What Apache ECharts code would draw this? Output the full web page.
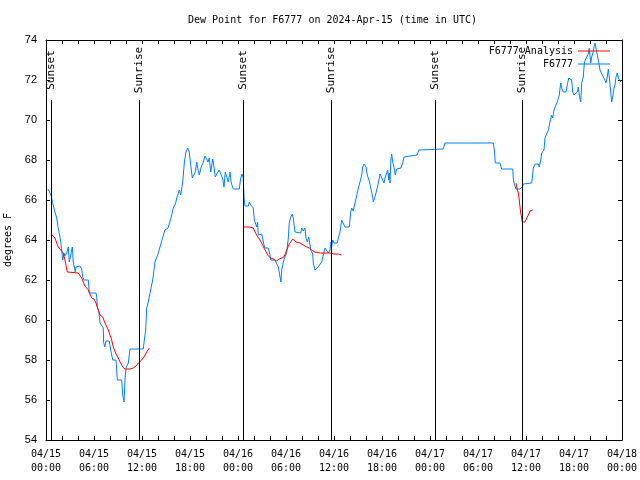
<!DOCTYPE html>
<html><head><meta charset="utf-8">
<script src="https://cdn.jsdelivr.net/npm/echarts@6/dist/echarts.min.js"></script>
<style>html,body{margin:0;padding:0;background:#fff}#c{width:640px;height:480px}</style>
</head><body><div id="c"></div>
<script>
// hours since 2024-04-15 00:00 UTC
const obsHours = [0.25,0.5,0.62,0.75,0.91,1.12,1.34,1.46,1.62,1.75,1.84,1.96,2.09,2.25,2.37,2.59,2.79,2.91,3.09,3.29,3.41,3.54,3.66,3.75,3.91,4.25,4.46,4.59,4.75,5.29,5.41,6.25,6.34,6.41,6.62,6.75,7.16,7.2,7.34,7.5,7.91,8.09,8.34,8.75,8.84,8.91,9.46,9.59,9.75,9.87,10.0,10.29,10.5,12.16,12.29,12.46,12.59,12.79,13.0,13.21,13.34,13.62,14.0,14.5,14.87,15.25,15.62,15.91,16.21,16.34,16.66,16.84,17.09,17.29,17.46,17.71,17.91,18.09,18.29,18.5,18.66,18.84,19.0,19.16,19.37,19.66,19.87,20.09,20.25,20.41,20.59,20.84,21.0,21.16,21.41,21.66,21.91,22.09,22.25,22.41,22.66,22.79,23.0,23.16,23.41,24.16,24.34,24.5,24.66,24.75,24.87,25.29,25.41,25.59,25.91,26.04,26.25,26.34,26.44,26.54,26.75,26.96,27.16,27.25,27.37,27.59,27.79,28.0,28.09,28.62,28.84,29.04,29.25,29.37,29.46,29.66,29.87,30.09,30.29,30.41,30.59,30.79,30.91,31.12,31.34,31.84,31.96,32.16,32.37,32.5,32.66,32.84,33.0,33.09,33.34,33.41,33.62,33.75,33.91,34.16,34.46,34.66,34.87,35.09,35.29,35.5,35.62,35.71,35.84,36.0,36.25,36.41,36.54,36.75,36.96,37.16,37.37,37.91,38.09,38.21,38.41,38.62,38.84,39.04,39.25,39.46,39.59,39.75,40.0,40.16,40.41,40.62,40.84,40.91,41.12,41.34,41.54,41.75,41.96,42.09,42.25,42.41,42.59,42.71,42.84,42.91,43.0,43.09,43.21,43.34,43.5,43.66,43.84,44.04,44.37,44.59,44.75,44.91,46.41,46.59,46.75,49.66,49.87,55.91,56.04,56.16,56.75,56.96,58.34,58.41,58.5,58.75,59.25,59.54,59.66,60.71,60.84,60.91,61.12,61.54,61.66,61.84,61.96,62.16,62.25,62.37,62.59,62.79,63.0,63.21,63.34,63.5,63.75,63.91,64.16,64.34,64.46,64.66,65.0,65.16,65.34,65.5,65.71,65.84,66.0,66.25,66.41,66.54,66.66,66.84,66.96,67.16,67.29,67.41,67.59,67.79,67.91,68.09,68.21,68.34,68.5,68.62,68.75,68.91,69.04,69.25,69.46,69.66,69.87,70.0,70.16,70.29,70.41,70.59,70.71,70.84,71.0,71.12,71.25,71.41,71.59,71.75,71.87];
const obsValues = [66.55,66.5,66.25,66.0,65.75,65.4,65.1,64.75,64.4,64.15,63.9,63.5,63.0,63.35,63.2,63.35,63.65,62.9,63.25,63.65,62.9,62.65,62.4,62.65,62.7,62.7,62.55,62.15,62.0,62.0,61.35,61.35,61.15,60.65,60.4,59.85,59.6,58.9,58.65,58.95,58.95,58.5,58.0,58.0,57.5,57.0,57.0,56.25,55.9,57.0,57.6,57.85,58.55,58.55,59.0,59.5,60.6,60.9,61.35,61.75,62.0,62.9,63.3,64.0,64.5,64.6,65.1,65.6,65.85,66.1,66.5,66.25,66.9,67.85,68.35,68.6,68.4,67.75,67.1,67.05,67.4,67.9,67.5,67.25,67.6,67.9,68.2,68.2,67.9,68.1,67.4,68.05,67.65,67.15,67.35,67.5,67.6,67.05,66.65,67.4,67.4,66.9,67.4,66.85,66.55,66.55,67.1,67.3,67.1,66.15,65.7,65.7,65.9,65.75,65.6,65.0,64.9,64.65,64.9,64.25,64.25,64.3,64.3,63.75,63.6,63.5,63.6,63.25,63.0,63.0,62.9,62.65,62.65,61.9,62.5,62.9,63.0,63.4,64.1,64.85,65.15,65.3,65.1,64.4,64.35,64.35,64.6,64.45,64.6,64.1,63.9,64.15,63.75,63.5,63.3,62.85,62.5,62.4,62.6,62.7,62.9,62.95,63.6,63.6,63.35,63.5,63.9,63.65,64.0,63.85,63.95,63.85,64.1,64.4,65.0,65.0,64.65,64.65,65.4,65.6,65.45,65.85,66.2,66.6,66.9,67.25,67.65,67.8,67.65,67.25,66.95,66.9,66.15,65.9,66.15,66.5,66.85,67.3,67.4,67.0,66.85,67.15,67.35,67.5,67.0,67.35,66.85,67.9,68.3,67.9,67.65,67.25,67.55,67.6,67.6,67.85,68.15,68.25,68.25,68.5,68.55,68.55,68.85,68.85,68.5,67.85,67.85,67.55,67.55,67.1,66.85,66.55,66.55,66.65,66.8,66.85,67.25,67.6,67.8,67.8,67.65,68.0,68.35,68.4,68.5,69.1,69.1,69.5,69.9,70.25,70.1,70.5,70.75,70.9,71.25,71.85,71.6,71.4,71.4,71.75,72.1,72.15,72.0,71.4,71.25,71.25,71.4,71.65,71.25,70.9,71.85,72.15,72.85,73.0,73.15,73.3,73.6,72.85,73.15,73.3,73.65,73.85,73.6,73.25,73.0,72.5,72.4,72.15,72.0,71.85,72.15,72.55,72.15,71.4,70.9,71.15,71.6,71.75,72.15,72.35,72.05,72.15,71.9];

const anaHours1 = [0.66,0.91,1.12,1.34,1.54,1.84,2.16,2.37,2.66,2.79,4.04,4.25,4.46,4.66,4.87,5.09,5.29,5.5,5.71,6.0,6.25,6.41,6.75,7.09,7.37,7.79,8.0,8.21,8.41,8.75,9.04,9.25,9.59,9.87,10.5,10.91,11.25,11.54,11.75,11.96,12.25,12.59,12.91];
const anaValues1 = [64.3,64.3,64.1,63.85,63.65,63.5,63.35,63.0,62.4,62.35,62.35,62.25,62.1,61.9,61.7,61.6,61.5,61.3,61.1,61.05,60.85,60.65,60.25,60.15,59.85,59.5,59.4,59.0,58.65,58.3,58.1,57.9,57.65,57.55,57.55,57.6,57.7,57.85,57.95,58.0,58.15,58.4,58.6];
const anaHours2 = [24.66,25.41,25.91,26.12,26.41,26.75,26.96,27.25,27.59,27.79,28.09,28.41,28.84,29.16,29.46,29.75,30.09,30.41,30.84,31.25,31.75,32.16,32.59,32.91,33.21,33.62,34.25,34.87,35.5,36.0,36.54,36.96];
const anaValues2 = [64.65,64.65,64.6,64.4,64.2,64.0,63.85,63.6,63.35,63.2,63.1,63.05,62.95,63.05,63.1,63.15,63.5,63.8,64.05,63.9,63.85,63.75,63.65,63.6,63.5,63.4,63.35,63.35,63.35,63.3,63.3,63.25];
const anaHours3 = [58.75,58.84,59.04,59.16,59.25,59.34,59.46,59.54,59.87,60.09,60.29,60.5,60.84];
const anaValues3 = [66.85,66.65,66.35,66.0,65.65,65.35,65.1,64.9,64.9,65.1,65.25,65.45,65.5];

const sunHours = [0.6, 11.65, 24.6, 35.62, 48.62, 59.5];
const sunLabels = ['Sunset','Sunrise','Sunset','Sunrise','Sunset','Sunrise'];

const xTickLabels = ['04/15\n00:00','04/15\n06:00','04/15\n12:00','04/15\n18:00','04/16\n00:00','04/16\n06:00','04/16\n12:00','04/16\n18:00','04/17\n00:00','04/17\n06:00','04/17\n12:00','04/17\n18:00','04/18\n00:00'];

const MONO = '"DejaVu Sans Mono", "Liberation Mono", monospace';
const zip = (a, b) => a.map((v, i) => [v, b[i]]);

const sunLines = [];
sunHours.forEach((h, i) => {
  sunLines.push([{coord: [h, 54], label: {show: false}}, {coord: [h, 71]}]);
  sunLines.push([
    {coord: [h, 71], lineStyle: {color: 'rgba(0,0,0,0)', width: 0},
      label: {show: true, formatter: sunLabels[i], position: 'middle', color: '#000'}},
    {coord: [h, 74]}
  ]);
});

const axisCommon = {
  axisLine: {show: true, onZero: false, lineStyle: {color: '#000', width: 1}},
  axisTick: {show: true, inside: true, length: 4, lineStyle: {color: '#000'}},
  splitLine: {show: false}
};

const anaStyle = {type: 'line', name: 'F6777 Analysis', symbol: 'none', color: '#ff0000',
  lineStyle: {width: 1, color: '#ff0000'}, animation: false, z: 3};

const chart = echarts.init(document.getElementById('c'), null, {renderer: 'canvas'});
chart.setOption({
  animation: false,
  title: {text: 'Dew Point for F6777 on 2024-Apr-15 (time in UTC)', left: 183, top: 10,
    textStyle: {fontFamily: MONO, fontSize: 10, fontWeight: 'normal', color: '#000'}},
  legend: {orient: 'vertical', right: 25, top: 41, align: 'right', icon: 'rect', itemWidth: 32, itemHeight: 1, itemGap: 3,
    data: ['F6777 Analysis', 'F6777'],
    textStyle: {fontFamily: MONO, fontSize: 10, color: '#000'}},
  grid: {left: 46, right: 18, top: 40, bottom: 40, containLabel: false, outerBoundsMode: 'none'},
  xAxis: [
    Object.assign({type: 'value', min: 0, max: 72, interval: 2, position: 'bottom',
      axisLabel: {fontFamily: MONO, fontSize: 10, color: '#000', lineHeight: 14, margin: 7,
        formatter: v => (v % 6 === 0 ? xTickLabels[v / 6] : '')}}, axisCommon),
    Object.assign({type: 'value', min: 0, max: 72, interval: 2, position: 'top', axisLabel: {show: false}}, axisCommon)
  ],
  yAxis: [
    Object.assign({type: 'value', min: 54, max: 74, interval: 2, position: 'left',
      name: 'degrees F', nameLocation: 'middle', nameGap: 31, nameRotate: 90,
      nameTextStyle: {fontFamily: MONO, fontSize: 10, color: '#000'},
      axisLabel: {fontFamily: '"Liberation Sans", Arial, sans-serif', fontSize: 11, color: '#000', margin: 9}}, axisCommon),
    Object.assign({type: 'value', min: 54, max: 74, interval: 2, position: 'right', axisLabel: {show: false}}, axisCommon)
  ],
  series: [
    Object.assign({data: zip(anaHours1, anaValues1)}, anaStyle),
    Object.assign({data: zip(anaHours2, anaValues2)}, anaStyle),
    Object.assign({data: zip(anaHours3, anaValues3)}, anaStyle),
    {type: 'line', name: 'F6777', symbol: 'none', color: '#0080ff', z: 2,
      lineStyle: {width: 1, color: '#0080ff'},
      data: zip(obsHours, obsValues),
      markLine: {silent: true, symbol: ['none', 'none'], animation: false,
        lineStyle: {color: '#000', width: 1, type: 'solid'},
        label: {show: true, fontFamily: MONO, fontSize: 11, color: '#000', distance: 0, verticalAlign: 'middle'},
        emphasis: {disabled: true},
        data: sunLines}
    }
  ]
});
</script></body></html>
